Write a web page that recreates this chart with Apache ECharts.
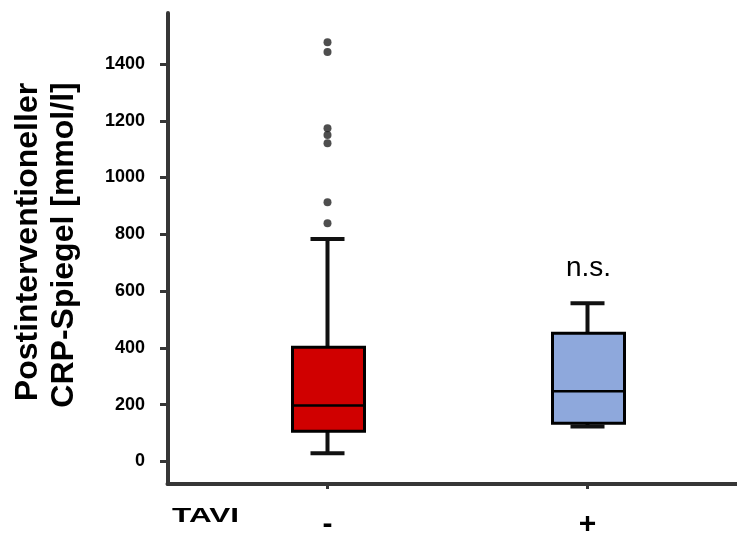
<!DOCTYPE html>
<html>
<head>
<meta charset="utf-8">
<script src="https://cdn.jsdelivr.net/npm/echarts@6/dist/echarts.min.js"></script>
<style>
html,body{margin:0;padding:0;background:#fff;}
#chart{width:737px;height:535px;}
</style>
</head>
<body>
<div id="chart"></div>
<script>
// ---- data ----
const categories = ['-', '+'];
const whiskerLow = [28, 123];
const quartile1 = [106, 134];
const medians = [197, 247];
const quartile3 = [402, 451];
const whiskerHigh = [783, 557];
const outliersMinus = [1477, 1442, 1174, 1150, 1121, 913, 839];
const yTickValues = [0, 200, 400, 600, 800, 1000, 1200, 1400];
const yAxisMin = -80;
const yTitleLines = ['Postinterventioneller', 'CRP-Spiegel [mmol/l]'];
const groupLabel = 'TAVI';
const significanceLabel = 'n.s.';

// ---- styles ----
const FONT = 'Liberation Sans, Arial, Helvetica, sans-serif';
const boxColors = ['#d00000', '#8ea8dc'];
const axisColor = '#363636';

const boxData = categories.map((c, i) => [i, whiskerLow[i], quartile1[i], medians[i], quartile3[i], whiskerHigh[i]]);
const outlierData = outliersMinus.map(v => [0, v]);

const chart = echarts.init(document.getElementById('chart'), null, {renderer: 'canvas'});
chart.setOption({
  backgroundColor: '#fff',
  animation: false,
  grid: [
    {left: 167.5, right: 0, top: 13, bottom: 51, containLabel: false, outerBoundsMode: 'none'},
    {left: 197.5, right: 19.5, top: 64, bottom: 51, containLabel: false, outerBoundsMode: 'none'}
  ],
  xAxis: [
    {gridIndex: 0, type: 'value', min: 0, max: 1,
     axisLine: {show: true, onZero: false, lineStyle: {color: axisColor, width: 4}},
     axisTick: {show: false}, axisLabel: {show: false}, splitLine: {show: false}},
    {gridIndex: 1, type: 'category', data: categories,
     axisLine: {show: false, onZero: false},
     axisTick: {show: true, alignWithLabel: true, length: 5, lineStyle: {color: axisColor, width: 3}},
     axisLabel: {fontFamily: FONT, fontWeight: 'bold', fontSize: 30, color: '#000', margin: 26},
     splitLine: {show: false}}
  ],
  yAxis: [
    {gridIndex: 0, type: 'value', min: 0, max: 1,
     axisLine: {show: true, onZero: false, lineStyle: {color: axisColor, width: 4}},
     axisTick: {show: false}, axisLabel: {show: false}, splitLine: {show: false}},
    {gridIndex: 1, type: 'value', min: yAxisMin, max: yTickValues[yTickValues.length - 1],
     offset: 31.5,
     axisLine: {show: false, onZero: false},
     axisTick: {show: true, length: 6, customValues: yTickValues, lineStyle: {color: axisColor, width: 3}},
     axisLabel: {fontFamily: FONT, fontWeight: 'bold', fontSize: 18, color: '#000', margin: 21,
                 customValues: yTickValues, formatter: v => String(v)},
     splitLine: {show: false}}
  ],
  graphic: [
    {type: 'text', x: 28, y: 242, rotation: Math.PI / 2,
     style: {text: yTitleLines[0], font: 'bold 32px ' + FONT, fill: '#000', textAlign: 'center', textVerticalAlign: 'middle'}},
    {type: 'text', x: 64, y: 245, rotation: Math.PI / 2,
     style: {text: yTitleLines[1], font: 'bold 32px ' + FONT, fill: '#000', textAlign: 'center', textVerticalAlign: 'middle'}},
    {type: 'text', x: 172, y: 516.5, scaleX: 1.5,
     style: {text: groupLabel, font: 'bold 21px ' + FONT, fill: '#000', textAlign: 'left', textVerticalAlign: 'middle'}},
    {type: 'text', x: 588.5, y: 268,
     style: {text: significanceLabel, font: '28px ' + FONT, fill: '#000', textAlign: 'center', textVerticalAlign: 'middle'}}
  ],
  series: [
    {type: 'custom', xAxisIndex: 1, yAxisIndex: 1, data: boxData, clip: false,
     encode: {x: 0, y: [1, 2, 3, 4, 5]},
     renderItem: function (params, api) {
       const idx = api.value(0);
       const pMin = api.coord([idx, api.value(1)]);
       const pQ1 = api.coord([idx, api.value(2)]);
       const pMed = api.coord([idx, api.value(3)]);
       const pQ3 = api.coord([idx, api.value(4)]);
       const pMax = api.coord([idx, api.value(5)]);
       const cx = pMin[0];
       const half = 36, cap = 17;
       const lineStyle = {stroke: '#111', lineWidth: 4};
       return {type: 'group', children: [
         {type: 'line', shape: {x1: cx, y1: pMin[1], x2: cx, y2: pMax[1]}, style: lineStyle},
         {type: 'line', shape: {x1: cx - cap, y1: pMin[1], x2: cx + cap, y2: pMin[1]}, style: lineStyle},
         {type: 'line', shape: {x1: cx - cap, y1: pMax[1], x2: cx + cap, y2: pMax[1]}, style: lineStyle},
         {type: 'rect', shape: {x: cx - half + 1, y: pQ3[1], width: 2 * half, height: pQ1[1] - pQ3[1]},
          style: {fill: boxColors[idx], stroke: '#000', lineWidth: 3}},
         {type: 'line', shape: {x1: cx - half + 1, y1: pMed[1], x2: cx + half + 1, y2: pMed[1]},
          style: {stroke: '#000', lineWidth: 2.5}}
       ]};
     }
    },
    {type: 'scatter', xAxisIndex: 1, yAxisIndex: 1, data: outlierData, clip: false,
     symbol: 'circle', symbolSize: 8, itemStyle: {color: '#222'}}
  ]
});
</script>
</body>
</html>
